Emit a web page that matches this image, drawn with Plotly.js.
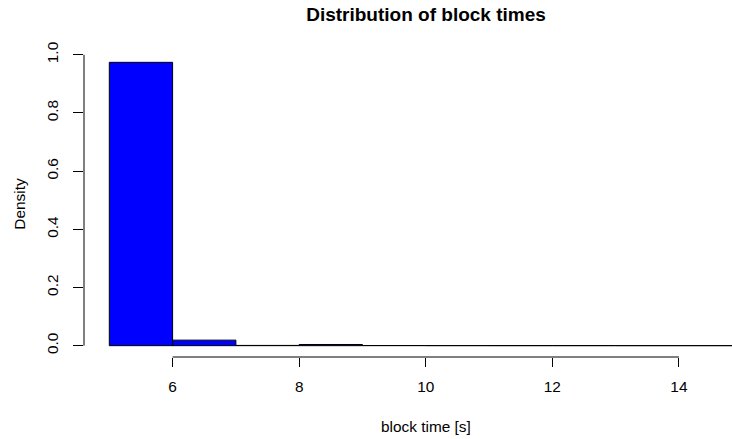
<!DOCTYPE html>
<html>
<head>
<meta charset="utf-8">
<script src="https://cdn.plot.ly/plotly-3.0.1.min.js"></script>
<style>html,body{margin:0;padding:0;background:#fff;}#chart{width:732px;height:439px;}</style>
</head>
<body>
<div id="chart"></div>
<script>
// Histogram bins (block time, seconds) and densities
const binStarts = [5, 6, 7, 8, 9, 10, 11, 12, 13, 14];
const binWidth = 1;
const density = [0.974, 0.019, 0.0008, 0.004, 0.0005, 0.0003, 0.0002, 0.0002, 0.0001, 0.0001];
const xTicks = [6, 8, 10, 12, 14];
const yTicks = [0.0, 0.2, 0.4, 0.6, 0.8, 1.0];

const titleText = "Distribution of block times";
const xLabel = "block time [s]";
const yLabel = "Density";

const FONT = "Liberation Sans, Arial, Helvetica, sans-serif";

const trace = {
  type: "bar",
  x: binStarts.map(b => b + binWidth / 2),
  y: density,
  width: binStarts.map(() => binWidth),
  marker: { color: "#0000FF", line: { color: "#000000", width: 1 } },
  hoverinfo: "x+y"
};

const layout = {
  width: 732, height: 439,
  margin: { l: 84, r: 0, t: 51, b: 82, pad: 0 },
  paper_bgcolor: "#fff", plot_bgcolor: "#fff",
  showlegend: false,
  bargap: 0,
  font: { family: FONT, size: 15.4, color: "#000" },
  title: {
    text: "<b>" + titleText + "</b>",
    font: { family: FONT, size: 19, color: "#000" },
    xref: "container", x: 426 / 732, xanchor: "center",
    yref: "container", y: 1 - 14 / 439, yanchor: "middle"
  },
  xaxis: {
    range: [4.6, 14.839],
    tickvals: xTicks,
    ticktext: xTicks.map(String),
    ticks: "outside", ticklen: 9, tickwidth: 1, tickcolor: "#000",
    showgrid: false, zeroline: false, showline: false,
    tickfont: { family: FONT, size: 15.4, color: "#000" },
    ticklabelstandoff: 7
  },
  yaxis: {
    range: [-0.039, 1.013],
    tickvals: yTicks,
    ticktext: yTicks.map(v => v.toFixed(1)),
    tickangle: -90,
    ticks: "outside", ticklen: 10, tickwidth: 1, tickcolor: "#000",
    showgrid: false, zeroline: false, showline: false,
    tickfont: { family: FONT, size: 15.4, color: "#000" },
    ticklabelstandoff: 9,
    title: { text: yLabel, font: { family: FONT, size: 15.4, color: "#000" }, standoff: 14 }
  },
  annotations: [{
    text: xLabel, showarrow: false,
    xref: "paper", x: (426 - 84) / 648, xanchor: "center",
    yref: "paper", y: -(426 - 357) / 306, yanchor: "middle",
    font: { family: FONT, size: 15.4, color: "#000" }
  }],
  shapes: [
    { type: "line", xref: "x", yref: "paper", x0: xTicks[0], x1: xTicks[xTicks.length - 1], y0: 0, y1: 0,
      line: { color: "#000", width: 1 } },
    { type: "line", xref: "paper", yref: "y", x0: 0, x1: 0, y0: yTicks[0], y1: yTicks[yTicks.length - 1],
      line: { color: "#000", width: 1 } }
  ]
};

Plotly.newPlot("chart", [trace], layout, { displayModeBar: false, staticPlot: true });
</script>
</body>
</html>
